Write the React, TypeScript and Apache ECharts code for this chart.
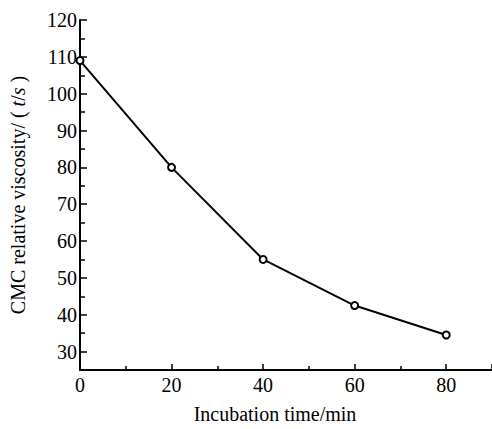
import React, { useEffect, useRef } from "react";
import * as echarts from "echarts";

const times = [0, 20, 40, 60, 80];
const viscosity = [109, 80, 55, 42.5, 34.5];
const yMajorTicks = [30, 40, 50, 60, 70, 80, 90, 100, 110, 120];
const yMinorTicks = [25, 35, 45, 55, 65, 75, 85, 95, 105, 115];
const xTickLabels = [0, 20, 40, 60, 80];

export default function App() {
  const ref = useRef<HTMLDivElement>(null);
  useEffect(() => {
    const chart = echarts.init(ref.current!, null, { renderer: "svg" });
    const font = "'Liberation Serif', 'DejaVu Serif', serif";
    const yBase = {
      type: "value",
      min: 25,
      max: 120,
      position: "left",
      splitLine: { show: false },
    };
    chart.setOption({
      animation: false,
      backgroundColor: "#fff",
      grid: { left: 70, right: 0, top: 20, bottom: 55, containLabel: false },
      xAxis: {
        type: "value",
        min: 0,
        max: 90,
        interval: 20,
        name: "Incubation time/min",
        nameLocation: "middle",
        nameGap: 34,
        nameTextStyle: { fontFamily: font, fontSize: 20, color: "#000", padding: [0, 22, 0, 0] },
        axisLine: { show: true, lineStyle: { color: "#000", width: 2 } },
        axisTick: { show: true, inside: true, length: 6, lineStyle: { color: "#000", width: 1.5 } },
        minorTick: { show: true, splitNumber: 2, length: 4, lineStyle: { color: "#000", width: 1.5 } },
        splitLine: { show: false },
        axisLabel: {
          fontFamily: font,
          fontSize: 20,
          color: "#000",
          margin: 5,
          customValues: xTickLabels,
        },
      },
      yAxis: [
        {
          ...yBase,
          name: "CMC relative viscosity/ ( {i|t}/{i|s} )",
          nameLocation: "middle",
          nameRotate: 90,
          nameGap: 52,
          nameTextStyle: {
            fontFamily: font,
            fontSize: 20,
            color: "#000",
            rich: { i: { fontFamily: font, fontSize: 20, fontStyle: "italic", color: "#000" } },
          },
          axisLine: { show: true, lineStyle: { color: "#000", width: 2 } },
          axisTick: {
            show: true,
            inside: true,
            length: 7,
            customValues: yMajorTicks,
            lineStyle: { color: "#000", width: 1.5 },
          },
          axisLabel: {
            fontFamily: font,
            fontSize: 20,
            color: "#000",
            margin: 3,
            customValues: yMajorTicks,
          },
        },
        {
          ...yBase,
          axisLine: { show: false },
          axisTick: {
            show: true,
            inside: true,
            length: 5,
            customValues: yMinorTicks,
            lineStyle: { color: "#000", width: 1.5 },
          },
          axisLabel: { show: false },
        },
      ],
      series: [
        {
          type: "line",
          yAxisIndex: 0,
          data: times.map((t, i) => [t, viscosity[i]]),
          symbol: "emptyCircle",
          symbolSize: 7,
          lineStyle: { color: "#000", width: 2 },
          itemStyle: { color: "#000", borderColor: "#000", borderWidth: 1.5 },
        },
      ],
    });
    return () => chart.dispose();
  }, []);
  return (
    <div
      ref={ref}
      style={{ position: "fixed", left: 0, top: 0, width: 492, height: 429, background: "#fff" }}
    />
  );
}
